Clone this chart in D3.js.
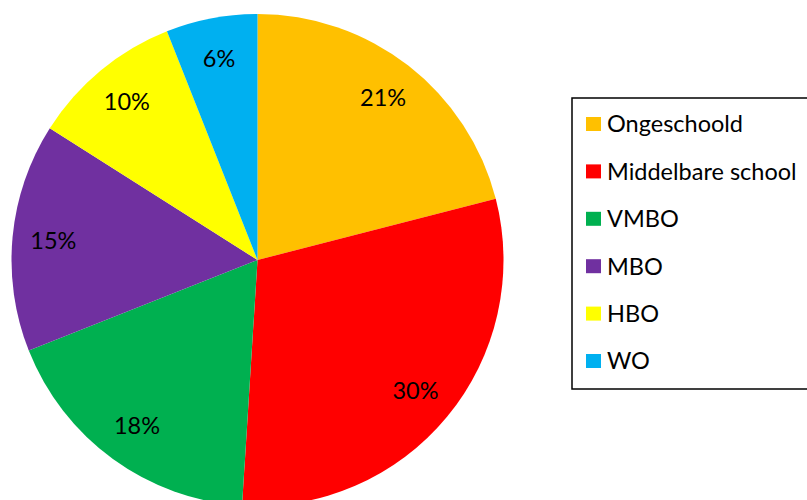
<!DOCTYPE html>
<html>
<head>
<meta charset="utf-8">
<script src="https://cdn.jsdelivr.net/npm/d3@7"></script>
<style>
  body { margin: 0; background: #fff; overflow: hidden; }
  svg { display: block; font-family: Lato, "Open Sans", sans-serif; }
</style>
</head>
<body>
<svg id="chart" width="807" height="500"></svg>
<script>
// data
const categories = ["Ongeschoold", "Middelbare school", "VMBO", "MBO", "HBO", "WO"];
const shares = [21, 30, 18, 15, 10, 6];
const colors = ["#FFC000", "#FF0000", "#00B050", "#7030A0", "#FFFF00", "#00B0F0"];

const center = { x: 257.5, y: 260 };
const RADIUS = 246;
const LABEL_R = 205;

const svg = d3.select("#chart");

const data = categories.map((c, i) => ({ name: c, value: shares[i], color: colors[i] }));

const pie = d3.pie().value(d => d.value).sort(null);
const arc = d3.arc().innerRadius(0).outerRadius(RADIUS);
const labelArc = d3.arc().innerRadius(LABEL_R).outerRadius(LABEL_R);

const slices = svg.append("g")
  .attr("transform", `translate(${center.x},${center.y})`);

const arcs = pie(data);

slices.selectAll("path")
  .data(arcs)
  .join("path")
  .attr("d", arc)
  .attr("fill", d => d.data.color);

slices.selectAll("text")
  .data(arcs)
  .join("text")
  .attr("transform", d => `translate(${labelArc.centroid(d)})`)
  .attr("text-anchor", "middle")
  .attr("dy", "0.35em")
  .attr("font-size", 23.5)
  .attr("fill", "#000")
  .text(d => `${d.data.value}%`);

// legend
const legend = svg.append("g").attr("transform", "translate(572,98)");

legend.append("rect")
  .attr("width", 260)
  .attr("height", 291)
  .attr("fill", "#fff")
  .attr("stroke", "#000")
  .attr("stroke-width", 1.5);

const rowY = d3.scalePoint().domain(categories).range([26, 263]);

const rows = legend.selectAll("g.row")
  .data(data)
  .join("g")
  .attr("class", "row")
  .attr("transform", d => `translate(0,${rowY(d.name)})`);

rows.append("rect")
  .attr("x", 14)
  .attr("y", -7)
  .attr("width", 15)
  .attr("height", 14)
  .attr("fill", d => d.color);

rows.append("text")
  .attr("x", 35)
  .attr("dy", "0.36em")
  .attr("font-size", 23.5)
  .attr("fill", "#000")
  .text(d => d.name);
</script>
</body>
</html>
